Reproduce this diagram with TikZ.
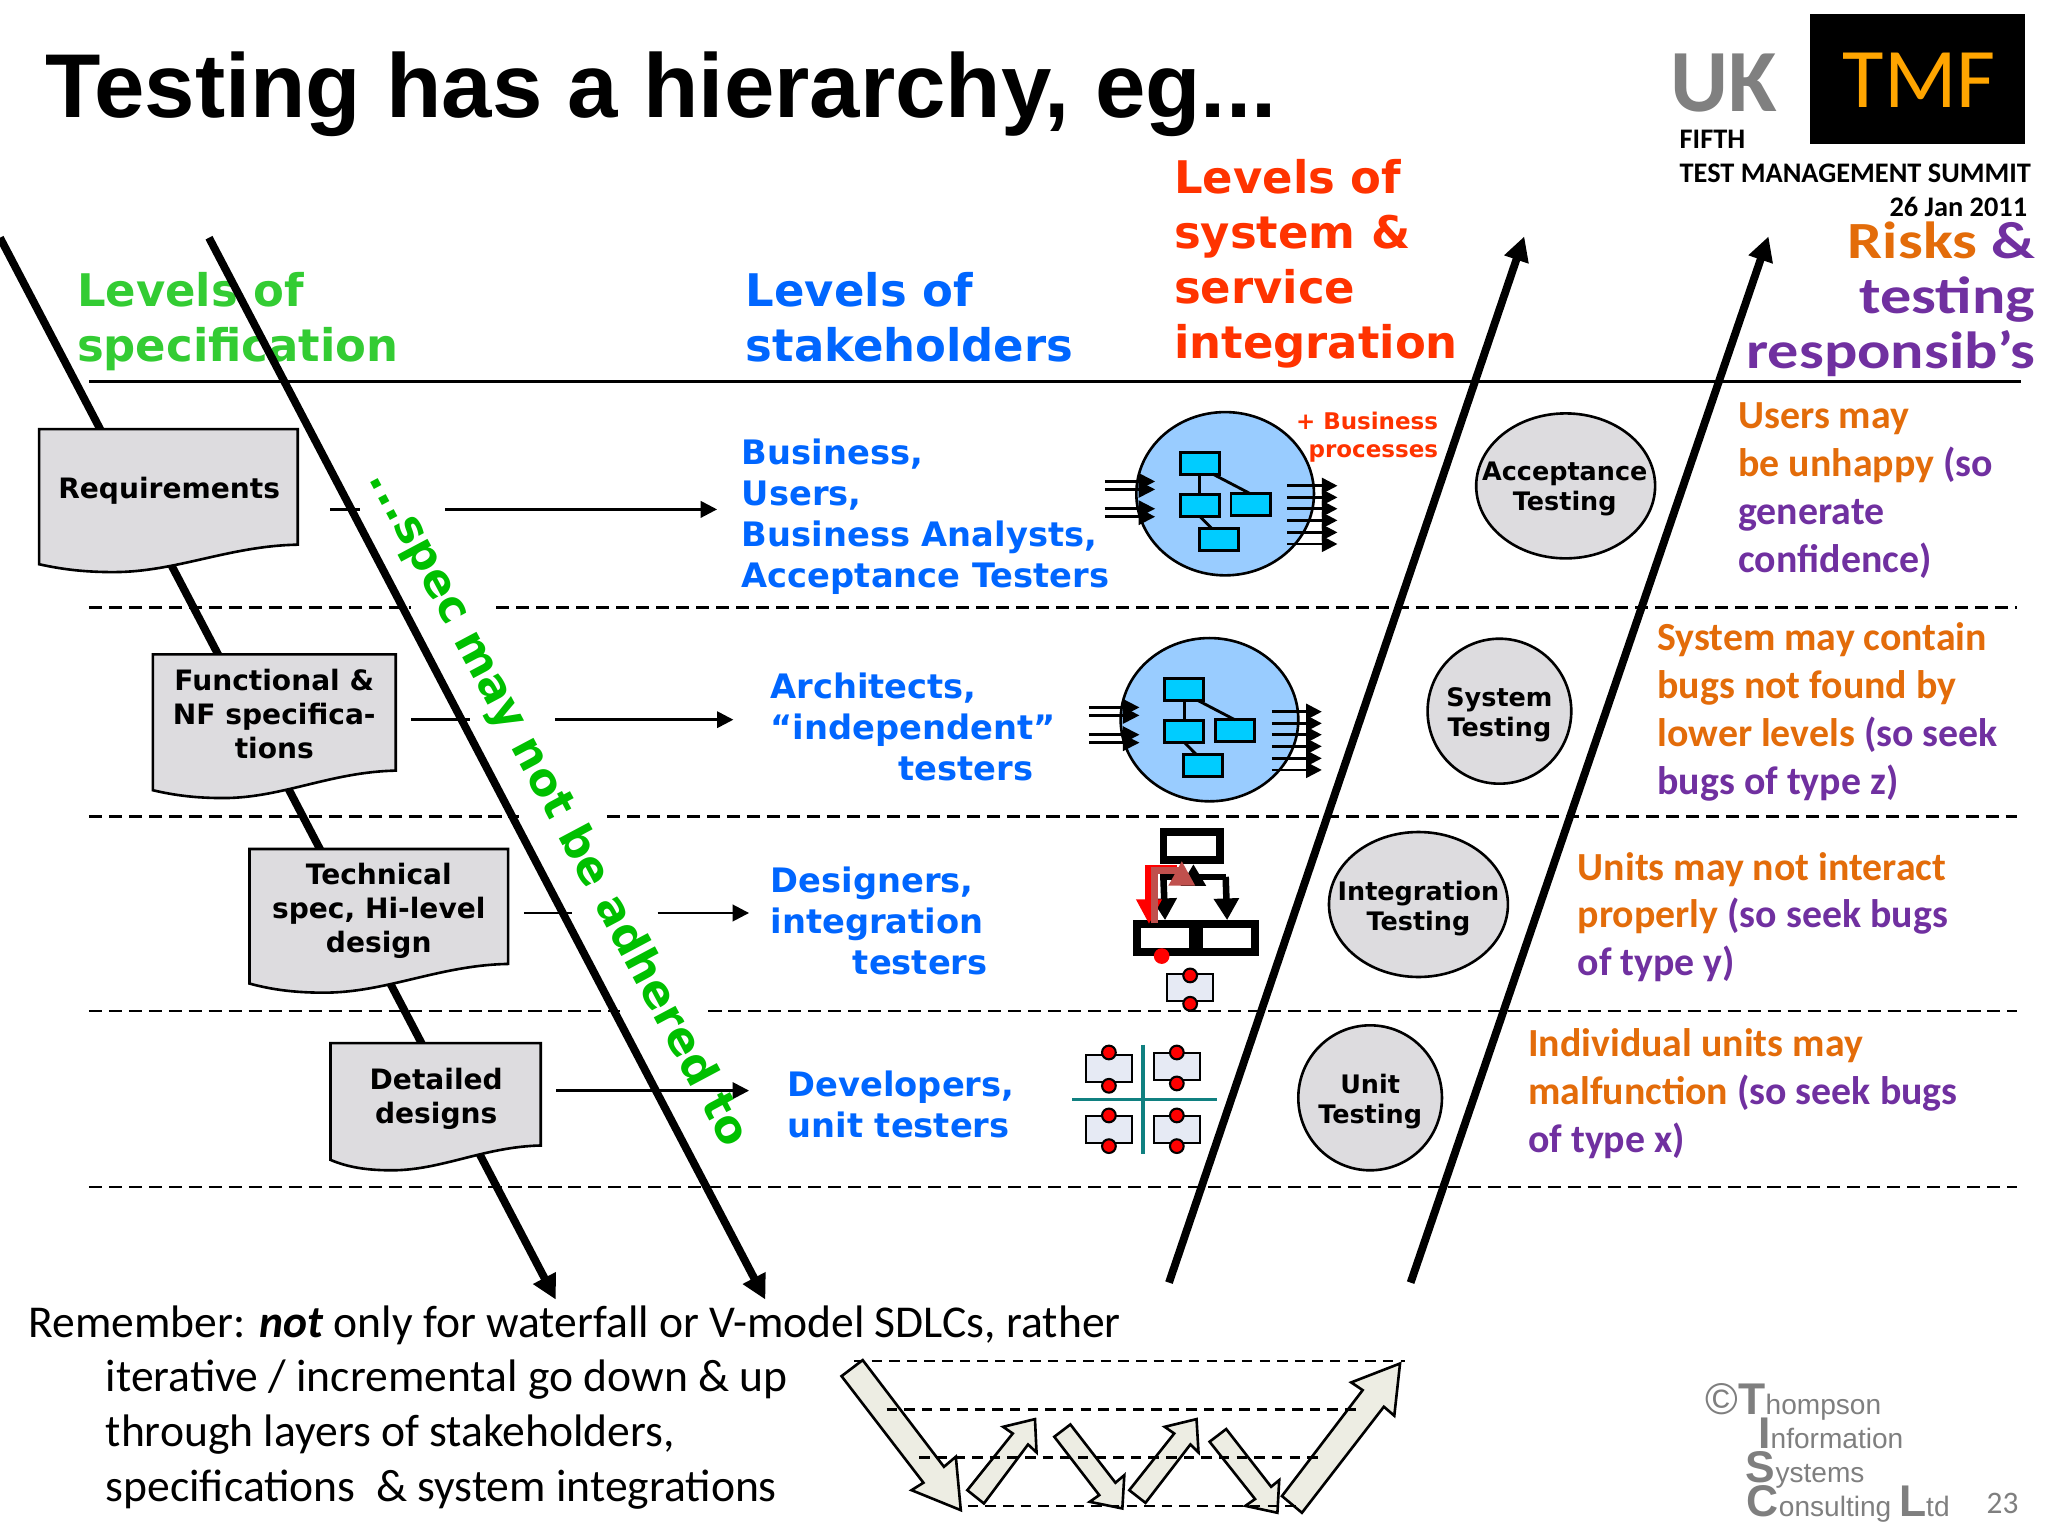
\documentclass[tikz,border=0pt]{standalone}
\usepackage{fontspec}
\usetikzlibrary{shapes.geometric,arrows.meta}
\setmainfont{Carlito}
\newfontfamily\dv{DejaVu Sans}
\newfontfamily\ar{Liberation Sans}
\newfontfamily\rk[FakeStretch=1.19]{Carlito}
\newcommand\fz[2]{\fontsize{#1}{#2}\selectfont}
\definecolor{lgreen}{HTML}{33CC33}
\definecolor{rotgreen}{HTML}{00C000}
\definecolor{sblue}{HTML}{0066FF}
\definecolor{rred}{HTML}{FF3300}
\definecolor{rorange}{HTML}{E36C0A}
\definecolor{rpurple}{HTML}{7030A0}
\definecolor{docgrey}{HTML}{DDDCDF}
\definecolor{bubblefill}{HTML}{99CCFF}
\definecolor{boxcyan}{HTML}{00CCFF}
\definecolor{chipfill}{HTML}{E6EAF4}
\definecolor{gridteal}{HTML}{108080}
\definecolor{varrow}{HTML}{EDEDE3}
\definecolor{logogrey}{HTML}{808080}
\definecolor{tisgrey}{HTML}{7F7F7F}
\definecolor{tmforange}{HTML}{FFA500}
\definecolor{brownred}{HTML}{C0504D}
\tikzset{
  tx/.style={inner sep=0pt,outer sep=0pt,anchor=base west,align=left},
  txr/.style={inner sep=0pt,outer sep=0pt,anchor=base east,align=right},
  heading/.style={tx,font=\dv\bfseries\fz{34.4}{42}},
  who/.style={tx,font=\dv\bfseries\fz{25.8}{31.5},text=sblue},
  risk/.style={tx,font=\bfseries\fz{30.5}{36.6}},
  doc/.style={draw=black,line width=2pt,fill=docgrey},
  doctext/.style={inner sep=0pt,outer sep=0pt,align=center,anchor=base,font=\dv\bfseries\fz{21.5}{26}},
  level/.style={ellipse,draw=black,line width=2pt,fill=docgrey,inner sep=0pt,outer sep=0pt},
  leveltext/.style={inner sep=0pt,outer sep=0pt,align=center,font=\dv\bfseries\fz{19.5}{23}},
  rowline/.style={draw=black,line width=2pt},
  rowarrow/.style={rowline,-{Triangle[length=12.5pt,width=12.5pt]}},
  sepdash/.style={draw=black,line width=1.8pt,dash pattern=on 10pt off 5.3pt},
  thickarrow/.style={draw=black,line width=6pt,-{Triangle[length=18.7pt,width=18.5pt]}},
  bub/.style={ellipse,draw=black,line width=2pt,fill=bubblefill,minimum width=136pt,minimum height=125pt,inner sep=0pt,outer sep=0pt},
  ibox/.style={draw=black,line width=2.2pt,fill=boxcyan,minimum width=30pt,minimum height=16.4pt,inner sep=0pt,outer sep=0pt},
  iline/.style={draw=black,line width=2.2pt},
  inarrow/.style={draw=black,line width=2pt,-{Triangle[length=12.7pt,width=12.5pt]}},
  outarrow/.style={draw=black,line width=2pt,-{Triangle[length=12pt,width=12pt]}},
  fatbox/.style={draw=black,line width=6pt,fill=white,minimum height=21.7pt,inner sep=0pt,outer sep=0pt},
  chip/.style={draw=black,line width=1.6pt,fill=chipfill,minimum width=35pt,minimum height=21pt,inner sep=0pt,outer sep=0pt},
  reddot/.style={circle,draw=black,line width=1.6pt,fill=red,minimum size=10.5pt,inner sep=0pt,outer sep=0pt},
  vshape/.style={draw=black,line width=2pt,fill=varrow,line join=miter},
  vdash/.style={draw=black,line width=1.8pt,dash pattern=on 8pt off 5.5pt},
  tis/.style={tx,font=\ar\fz{21.5}{24},text=tisgrey},
}
\newcommand\bubble[3]{%
  \begin{scope}[shift={(#2,#3)}]
    \node[bub] (#1c) at (0,0) {};
    \foreach \yy in {-9.4,-3.3,11.5,17.6} \draw[inarrow] (-92,\yy) -- (-53.6,\yy);
    \node[ibox] (#1a) at (-19.4,-23.2) {};
    \node[ibox] (#1b) at (-19.4,9.1) {};
    \node[ibox] (#1d) at (19.5,8.3) {};
    \node[ibox] (#1e) at (-4.9,35.1) {};
    \draw[iline] (#1a.south) -- (#1b.north);
    \draw[iline] ([xshift=10pt]#1a.south) -- (#1d.north);
    \draw[iline] (#1b.south) -- ([xshift=-5pt]#1e.north);
    \foreach \yy in {-6.1,2.8,11.5,20.4,29.6,38.5} \draw[outarrow] (47.7,\yy) -- (86,\yy);
  \end{scope}}
\newcommand\chipdots[5]{% name, x, cy box, ytop, ybot
  \node[chip] (#1) at (#2,#3) {};
  \node[reddot] (#1t) at (#2,#4) {};
  \node[reddot] (#1b) at (#2,#5) {};}
\begin{document}
\begin{tikzpicture}[x=1pt,y=-1pt]
\useasboundingbox (0,0) rectangle (1568,1176);
\fill[white] (0,0) rectangle (1568,1176);

% title and logo
\node[tx,font=\ar\bfseries\fz{69.4}{72}] (title) at (35,90) {Testing has a hierarchy, eg...};
\node[tx,font=\bfseries\fz{68}{72},text=logogrey] (uk) at (1279,85) {UK};
\node[draw=black,fill=black,minimum width=164pt,minimum height=99pt,inner sep=0pt,outer sep=0pt] (tmfbox) at (1468,60.5) {};
\node[inner sep=0pt,outer sep=0pt,anchor=base,font=\fz{65}{72},text=tmforange] (tmf) at (1469.5,82) {TMF};
\node[tx,font=\bfseries\fz{21.7}{26}] (fifth) at (1286,113.6) {FIFTH};
\node[tx,font=\bfseries\fz{21.7}{26}] (tms) at (1286,139.6) {TEST MANAGEMENT SUMMIT};
\node[txr,font=\bfseries\fz{21.7}{26}] (date) at (1552,166) {26 Jan 2011};

% headings
\node[heading,text=lgreen] (h1) at (59,277) {Levels of\\specification};
\node[heading,text=sblue] (h2) at (571,277) {Levels of\\stakeholders};
\node[heading,text=rred] (h3) at (899,274.5) {Levels of\\system \&\\service\\integration};
\node[txr,font=\rk\bfseries\fz{40}{42}] (h4) at (1558,282) {\textcolor{rorange}{Risks} \textcolor{rpurple}{\&}\\\textcolor{rpurple}{testing}\\\textcolor{rpurple}{responsib’s}};

% separators
\coordinate (s0a) at (68,292); \coordinate (s0b) at (1547,292);
\draw[draw=black,line width=2pt] (s0a) -- (s0b);
\coordinate (s1a) at (68,465); \coordinate (s1b) at (314.5,465); \coordinate (s1c) at (380,465); \coordinate (s1d) at (1544,465);
\draw[sepdash] (s1a) -- (s1b); \draw[sepdash] (s1c) -- (s1d);
\coordinate (s2a) at (68,625); \coordinate (s2b) at (397,625); \coordinate (s2c) at (464.6,625); \coordinate (s2d) at (1544,625);
\draw[sepdash] (s2a) -- (s2b); \draw[sepdash] (s2c) -- (s2d);
\coordinate (s3a) at (68,774); \coordinate (s3b) at (475,774); \coordinate (s3c) at (542.4,774); \coordinate (s3d) at (1544,774);
\draw[sepdash] (s3a) -- (s3b); \draw[sepdash] (s3c) -- (s3d);
\coordinate (s4a) at (68,909); \coordinate (s4d) at (1544,909);
\draw[sepdash] (s4a) -- (s4d);

% thick arrows
\coordinate (d1s) at (0,182); \coordinate (d1e) at (425.5,995);
\coordinate (d2s) at (160,182); \coordinate (d2e) at (586,995);
\coordinate (u1s) at (895,982); \coordinate (u1e) at (1167,181);
\coordinate (u2s) at (1080,982); \coordinate (u2e) at (1354,181);
\draw[thickarrow] (d1s) -- (d1e);
\draw[thickarrow] (d2s) -- (d2e);
\draw[thickarrow] (u1s) -- (u1e);
\draw[thickarrow] (u2s) -- (u2e);

% documents
\draw[doc] (30,328.5) -- (228,328.5) -- (228,417) .. controls (175,418) and (135,438) .. (87,438) .. controls (65,438) and (48,436) .. (30,432) -- cycle;
\draw[doc] (117,501) -- (303,501) -- (303,590) .. controls (253,591) and (216,611) .. (171,611) .. controls (150,611) and (134,609) .. (117,605) -- cycle;
\draw[doc] (191,650) -- (389,650) -- (389,738) .. controls (336,739) and (296,760) .. (248,760) .. controls (227,760) and (209,758) .. (191,753) -- cycle;
\draw[doc] (253,798.6) -- (414,798.6) -- (414,877) .. controls (370.5,878) and (338,896) .. (300,896) .. controls (282,896) and (267,894) .. (253,888) -- cycle;
\node[doctext] (req) at (129.5,381.6) {Requirements};
\node[doctext] (fun) at (210,581) {Functional \&\\NF specifica-\\tions};
\node[doctext] (tec) at (290,729) {Technical\\spec, Hi-level\\design};
\node[doctext] (det) at (334,860) {Detailed\\designs};

% row connectors
\coordinate (r1a) at (253,390); \coordinate (r1b) at (275.6,390); \coordinate (r1c) at (340.7,390); \coordinate (r1d) at (549,390);
\draw[rowline] (r1a) -- (r1b); \draw[rowarrow] (r1c) -- (r1d);
\coordinate (r2a) at (314.7,551); \coordinate (r2b) at (360,551); \coordinate (r2c) at (425,551); \coordinate (r2d) at (561.5,551);
\draw[rowline] (r2a) -- (r2b); \draw[rowarrow] (r2c) -- (r2d);
\coordinate (r3a) at (401,699); \coordinate (r3b) at (437.8,699); \coordinate (r3c) at (503.4,699); \coordinate (r3d) at (573.5,699);
\draw[rowline] (r3a) -- (r3b); \draw[rowarrow] (r3c) -- (r3d);
\coordinate (r4a) at (425.8,835); \coordinate (r4d) at (573.5,835);
\draw[rowarrow] (r4a) -- (r4d);

% rotated label
\node[inner sep=0pt,outer sep=0pt,rotate=-62,font=\dv\bfseries\fz{34.4}{40},text=rotgreen] (spec) at (426.6,619) {...spec may not be adhered to};

% stakeholders
\node[who] (w1) at (568,450) {Business,\\Users,\\Business Analysts,\\Acceptance Testers};
\node[who] (w2) at (590,597.5) {Architects,\\“independent”\\\hspace*{98pt}testers};
\node[who] (w3) at (590,746) {Designers,\\integration\\\hspace*{63pt}testers};
\node[who] (w4) at (603,871) {Developers,\\unit testers};

% bubbles
\bubble{p}{938}{378}
\bubble{q}{926}{551}
\node[txr,font=\dv\bfseries\fz{17.6}{21},text=rred] (bp) at (1101,350) {+ Business\\processes};

% integration icon
\node[fatbox,minimum width=43.3pt] (t) at (912.4,647.8) {};
\node[fatbox,minimum width=42.8pt] (lb) at (892,718.3) {};
\node[fatbox,minimum width=43.3pt] (rb) at (939.5,718.3) {};
\draw[draw=black,line width=5pt] (888.2,671.3) -- (938.4,671.3);
\draw[draw=black,line width=5pt,-{Triangle[length=16.6pt,width=18.5pt]}] (890.7,671.3) -- ([yshift=3pt]lb.north);
\draw[draw=black,line width=5pt,-{Triangle[length=16.6pt,width=18.5pt]}] (938.4,671.3) -- ([yshift=3pt]rb.north);
\draw[draw=black,line width=5pt,-{Triangle[length=16.6pt,width=18.3pt]}] (913.7,676) -- (913.7,661.6);
\draw[draw=red,line width=5.5pt,-{Triangle[length=19pt,width=18.6pt]}] (901,664.9) -- (879.7,664.9) -- (879.7,707.5);
\draw[draw=brownred,line width=5.5pt,-{Triangle[length=19pt,width=19pt]}] (883.8,707) -- (883.8,666.2) -- (904.8,666.2) -- (904.8,659);
\node[circle,fill=red,minimum size=12pt,inner sep=0pt,outer sep=0pt] (dot) at (889.4,732) {};
\chipdots{m}{911.2}{756.2}{746.8}{768.5}

% unit icon
\draw[draw=gridteal,line width=3pt] (874.9,799.7) -- (874.9,883.6);
\draw[draw=gridteal,line width=3pt] (821,841.8) -- (932,841.8);
\chipdots{ca}{849}{818}{805.8}{831.3}
\chipdots{cb}{901}{816.4}{805.8}{829.5}
\chipdots{cc}{849}{864.8}{854}{877.5}
\chipdots{cd}{901}{864.8}{854}{877.5}

% test level ellipses
\node[level,minimum width=137pt,minimum height=111pt] (acc) at (1198.7,372) {};
\node[level,minimum width=110pt,minimum height=111pt] (sys) at (1148,544.5) {};
\node[level,minimum width=137pt,minimum height=111pt] (int) at (1086,692.5) {};
\node[level,minimum width=110pt,minimum height=111pt] (uni) at (1049,840.5) {};
\node[leveltext] (acct) at (1198,374.5) {Acceptance\\Testing};
\node[leveltext] (syst) at (1148,547.5) {System\\Testing};
\node[leveltext] (intt) at (1086,695.5) {Integration\\Testing};
\node[leveltext] (unit) at (1049,843.5) {Unit\\Testing};

% risks
\node[risk,text=rpurple] (k1) at (1331,438) {\textcolor{rorange}{Users may}\\\textcolor{rorange}{be unhappy} (so\\generate\\confidence)};
\node[risk,text=rpurple] (k2) at (1269,608) {\textcolor{rorange}{System may contain}\\\textcolor{rorange}{bugs not found by}\\\textcolor{rorange}{lower levels} (so seek\\bugs of type z)};
\node[risk,text=rpurple] (k3) at (1208,747) {\textcolor{rorange}{Units may not interact}\\\textcolor{rorange}{properly} (so seek bugs\\of type y)};
\node[risk,text=rpurple] (k4) at (1170,882) {\textcolor{rorange}{Individual units may}\\\textcolor{rorange}{malfunction} (so seek bugs\\of type x)};

% remember text
\node[tx,font=\fz{34.9}{42}] (rem) at (22,1024) {Remember: \textbf{\textit{not}} only for waterfall or V-model SDLCs, rather};
\node[tx,font=\fz{34.9}{42}] (rem2) at (81,1149.5) {iterative / incremental go down \& up\\through layers of stakeholders,\\specifications~ \& system integrations};

% V arrows
\draw[vshape] (644.3,1053.6) -- (660.5,1041.3) -- (722.7,1123) -- (731.8,1115.3) -- (735.6,1156.2) -- (697.9,1140.9) -- (707,1135.2) -- cycle;
\draw[vshape] (740.6,1140.9) -- (753.3,1151.1) -- (787.1,1105.9) -- (793.6,1112) -- (792.4,1086.5) -- (768,1092.4) -- (775.4,1097.5) -- cycle;
\draw[vshape] (807.2,1100) -- (819.5,1090.6) -- (854,1135.2) -- (860.8,1129.4) -- (859.3,1154.9) -- (834.3,1149.8) -- (841.6,1144.7) -- cycle;
\draw[vshape] (864.6,1140.9) -- (877,1150.6) -- (911.4,1105.9) -- (917.6,1112) -- (916.1,1086.5) -- (891.7,1092.4) -- (899,1097.5) -- cycle;
\draw[vshape] (926.1,1103.8) -- (938.8,1094.1) -- (973.2,1138.3) -- (979.4,1133.2) -- (978,1158.2) -- (953.5,1152.9) -- (960.9,1147.7) -- cycle;
\draw[vshape] (981.5,1145.4) -- (996.8,1158.2) -- (1059.5,1077) -- (1067.5,1083.9) -- (1071.9,1043.9) -- (1034.5,1058.4) -- (1043.3,1064.3) -- cycle;
\coordinate (v1a) at (653.8,1042); \coordinate (v1b) at (1075.7,1042);
\coordinate (v2a) at (678.8,1079); \coordinate (v2b) at (1039,1079);
\coordinate (v3a) at (703.8,1116); \coordinate (v3b) at (1013.9,1116);
\coordinate (v4a) at (741,1153); \coordinate (v4b) at (994,1153);
\draw[vdash] (v1a) -- (v1b);
\draw[vdash] (v2a) -- (v2b);
\draw[vdash] (v3a) -- (v3b);
\draw[vdash] (v4a) -- (v4b);

% copyright
\newcommand\bl[1]{{\bfseries\fontsize{34}{36}\selectfont #1}}
\node[tis] (c1) at (1306,1082.7) {\fontsize{34}{36}\selectfont ©\bl{T}\fontsize{21.5}{24}\selectfont hompson};
\node[tis] (c2) at (1346.2,1108.7) {\bl{I}nformation};
\node[tis] (c3) at (1336.7,1134.8) {\bl{S}ystems};
\node[tis] (c4) at (1337.4,1161) {\bl{C}onsulting \bl{L}td};
\node[tx,font=\fz{24}{28},text=tisgrey] (pg) at (1521,1158.8) {23};
\end{tikzpicture}
\end{document}
